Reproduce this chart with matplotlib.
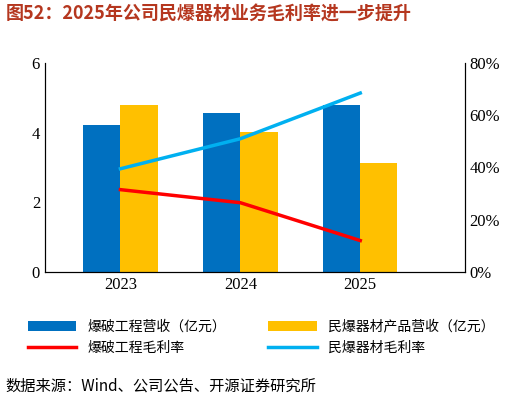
import matplotlib
matplotlib.use("Agg")
import matplotlib.pyplot as plt
import numpy as np

plt.rcParams['font.family'] = ['Liberation Serif', 'Noto Sans CJK SC', 'DejaVu Sans']

years = ['2023', '2024', '2025']
blast_rev = [4.22, 4.57, 4.80]
product_rev = [4.80, 4.02, 3.12]
blast_margin = [31.5, 26.5, 12.0]
product_margin = [39.5, 51.0, 68.5]

fig = plt.figure(figsize=(5.22, 4.04), dpi=100)
ax = fig.add_axes([0.086, 0.327, 0.804, 0.517])
x = np.arange(len(years))
w = 0.31
b1 = ax.bar(x - w/2, blast_rev, w, color='#0070C0', label='爆破工程营收（亿元）')
b2 = ax.bar(x + w/2, product_rev, w, color='#FFC000', label='民爆器材产品营收（亿元）')
ax.set_ylim(0, 6)
ax.set_yticks([0, 2, 4, 6])
ax.set_xlim(-0.63, 2.87)
ax.set_xticks(x)
ax.set_xticklabels(years)
ax.tick_params(labelsize=12, length=0)
ax.spines['top'].set_visible(False)
ax2 = ax.twinx()
l1, = ax2.plot(x, blast_margin, color='#FF0000', lw=2.5, label='爆破工程毛利率')
l2, = ax2.plot(x, product_margin, color='#00B0F0', lw=2.5, label='民爆器材毛利率')
ax2.set_ylim(0, 80)
ax2.set_yticks([0, 20, 40, 60, 80])
ax2.set_yticklabels([f'{v}%' for v in [0, 20, 40, 60, 80]])
ax2.tick_params(labelsize=12, length=0)
ax2.spines['top'].set_visible(False)

fig.legend(handles=[b1, l1, b2, l2], loc='center', bbox_to_anchor=(0.5, 0.165), ncol=2,
           frameon=False, columnspacing=3, handlelength=3.5,
           prop={'family': ['Noto Sans CJK SC'], 'size': 10})

fig.text(0.01, 0.965, '图52：2025年公司民爆器材业务毛利率进一步提升', fontsize=13, fontweight='bold',
         color='#B5371F', va='center', family=['Noto Sans CJK SC'])
fig.text(0.01, 0.045, '数据来源：Wind、公司公告、开源证券研究所', fontsize=11, va='center',
         family=['Noto Sans CJK SC'])
fig.savefig('out.png', dpi=100)
